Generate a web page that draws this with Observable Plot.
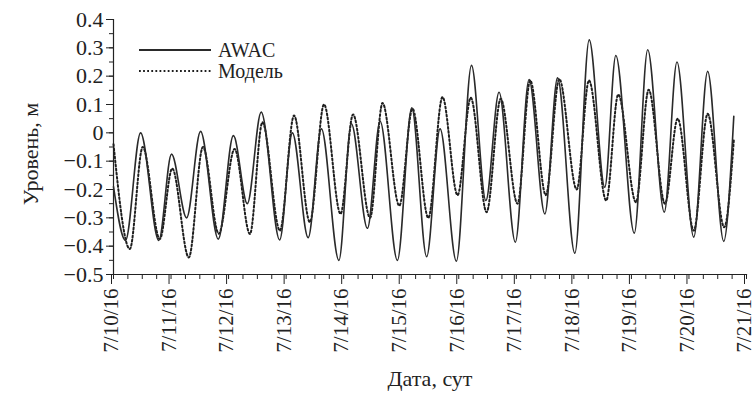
<!DOCTYPE html>
<html>
<head>
<meta charset="utf-8">
<script src="https://cdn.jsdelivr.net/npm/d3@7"></script>
<script src="https://cdn.jsdelivr.net/npm/@observablehq/plot@0.6"></script>
<style>
  html, body { margin: 0; padding: 0; background: #fff; }
  #wrap { position: relative; width: 756px; height: 402px; }
  #legend { position: absolute; left: 0; top: 0; }
</style>
</head>
<body>
<div id="wrap"></div>
<script>
// Hours since 7/10/16 00:00 of the turning points
const hoursAWAC = [0, 5.0, 11.3, 18.9, 24.2, 30.5, 36.3, 43.7, 50.0, 55.8, 61.6, 69.3, 74.6, 81.2, 86.7, 94.0, 99.2, 105.9, 111.2, 118.4, 124.4, 130.6, 136.2, 143.0, 149.3, 155.3, 160.8, 167.6, 173.3, 179.9, 185.2, 192.4, 198.4, 204.9, 209.5, 217.2, 222.8, 229.7, 235.0, 242.0, 247.8, 254.5, 258.7];
const levelAWAC = [-0.19, -0.38, 0.0, -0.38, -0.075, -0.30, 0.005, -0.375, -0.01, -0.25, 0.073, -0.378, 0.0, -0.37, 0.014, -0.45, 0.032, -0.337, 0.041, -0.45, 0.088, -0.437, 0.014, -0.453, 0.238, -0.239, 0.143, -0.386, 0.188, -0.286, 0.194, -0.425, 0.328, -0.192, 0.273, -0.354, 0.293, -0.28, 0.25, -0.368, 0.217, -0.383, 0.058];

const hoursModel = [0, 6.8, 12.2, 19.3, 24.5, 31.4, 37.3, 43.9, 50.5, 56.9, 62.1, 69.4, 75.3, 81.9, 87.8, 94.7, 99.9, 107.0, 112.2, 119.2, 124.7, 131.3, 137.2, 143.5, 149.0, 155.6, 161.5, 168.5, 173.8, 180.3, 185.9, 193.2, 198.3, 205.5, 210.5, 217.9, 223.2, 230.0, 235.3, 242.0, 247.8, 254.7, 258.7];
const levelModel = [-0.04, -0.41, -0.05, -0.375, -0.126, -0.44, -0.05, -0.356, -0.057, -0.357, 0.037, -0.345, 0.061, -0.315, 0.10, -0.286, 0.065, -0.30, 0.105, -0.257, 0.085, -0.30, 0.126, -0.22, 0.124, -0.28, 0.12, -0.25, 0.185, -0.22, 0.19, -0.20, 0.185, -0.239, 0.135, -0.245, 0.152, -0.25, 0.05, -0.345, 0.067, -0.333, -0.027];

const seriesNames = ["AWAC", "Модель"];
const yTicks = [0.4, 0.3, 0.2, 0.1, 0, -0.1, -0.2, -0.3, -0.4, -0.5];
const yTickLabels = ["0.4", "0.3", "0.2", "0.1", "0", "−0.1", "−0.2", "−0.3", "−0.4", "−0.5"];
const xTickDays = [10, 11, 12, 13, 14, 15, 16, 17, 18, 19, 20, 21];
const xTickLabels = ["7/10/16", "7/11/16", "7/12/16", "7/13/16", "7/14/16", "7/15/16", "7/16/16", "7/17/16", "7/18/16", "7/19/16", "7/20/16", "7/21/16"];
const xTitle = "Дата, сут";
const yTitle = "Уровень, м";

// pick an installed serif face (Times-like) by measuring text widths
function pickFont(candidates, fallback) {
  const c = document.createElement("canvas").getContext("2d");
  const probe = "Уровень 0.4 AWAC Дата mmmwwlli";
  const w = f => { c.font = "40px " + f; return c.measureText(probe).width; };
  const base = [w("monospace"), w("sans-serif")];
  for (const f of candidates) {
    const a = w(`'${f}', monospace`), b = w(`'${f}', sans-serif`);
    if (a !== base[0] || b !== base[1]) return `'${f}', ${fallback}`;
  }
  return fallback;
}
const FONT = pickFont(["Liberation Serif", "Tinos", "Times New Roman", "DejaVu Serif", "Noto Serif", "FreeSerif", "Nimbus Roman"], "serif");

const t0 = Date.UTC(2016, 6, 10);
const toDate = h => new Date(t0 + h * 3600e3);
const awac = hoursAWAC.map((h, i) => ({t: toDate(h), v: levelAWAC[i]}));
const model = hoursModel.map((h, i) => ({t: toDate(h), v: levelModel[i]}));

const xMajor = xTickDays.map(d => new Date(Date.UTC(2016, 6, d)));
const xMinor = d3.utcHour.every(6).range(xMajor[0], new Date(+xMajor[xMajor.length - 1] + 1));
const yMinor = d3.range(-10, 9).map(k => k * 0.05);

const ink = "#222";
const solidStroke = "#2a2a2a";
const dotStroke = "#1e1e1e";
const dotDash = "1.8,2.3";

const chart = Plot.plot({
  width: 756,
  height: 402,
  marginLeft: 113,
  marginRight: 10,
  marginTop: 19,
  marginBottom: 128,
  style: {fontFamily: FONT, color: ink, background: "#fff"},
  x: {type: "utc", domain: [xMajor[0], xMajor[xMajor.length - 1]]},
  y: {domain: [-0.5, 0.4]},
  marks: [
    Plot.axisY(yMinor, {tickSize: 4, tickFormat: () => "", label: null, stroke: ink}),
    Plot.axisY(yTicks, {tickSize: 7, tickPadding: 3, fontSize: 22, label: null, stroke: ink,
      tickFormat: d => yTickLabels[yTicks.indexOf(d)]}),
    Plot.axisX(xMinor, {tickSize: 5, tickFormat: () => "", label: null, stroke: ink}),
    Plot.axisX(xMajor, {tickSize: 10, tickPadding: 4, tickRotate: -90, fontSize: 21, dx: -2, label: null, stroke: ink,
      tickFormat: d => xTickLabels[xMajor.findIndex(m => +m === +d)]}),
    Plot.frame({anchor: "left", stroke: ink, strokeWidth: 1.2}),
    Plot.frame({anchor: "bottom", stroke: ink, strokeWidth: 1.2}),
    Plot.line(model, {x: "t", y: "v", curve: "monotone-x", stroke: dotStroke, strokeWidth: 2.0, strokeDasharray: dotDash}),
    Plot.line(awac, {x: "t", y: "v", curve: "monotone-x", stroke: solidStroke, strokeWidth: 1.6}),
    Plot.text([xTitle], {frameAnchor: "bottom", dy: 111, fontSize: 22, fill: ink}),
    Plot.text([yTitle], {frameAnchor: "left", textAnchor: "middle", lineAnchor: "middle", dx: -83, dy: 7, rotate: -90, fontSize: 22, fill: ink})
  ]
});

const wrap = document.getElementById("wrap");
wrap.appendChild(chart);

// Legend overlay (inside plot, top-left)
const ns = "http://www.w3.org/2000/svg";
const leg = document.createElementNS(ns, "svg");
leg.setAttribute("id", "legend");
leg.setAttribute("width", 320);
leg.setAttribute("height", 100);
const items = [
  {name: seriesNames[0], dash: null, stroke: solidStroke, w: 1.8, y: 50},
  {name: seriesNames[1], dash: dotDash, stroke: dotStroke, w: 2.1, y: 71}
];
for (const it of items) {
  const l = document.createElementNS(ns, "line");
  l.setAttribute("x1", 139); l.setAttribute("x2", 211);
  l.setAttribute("y1", it.y); l.setAttribute("y2", it.y);
  l.setAttribute("stroke", it.stroke);
  l.setAttribute("stroke-width", it.w);
  if (it.dash) l.setAttribute("stroke-dasharray", it.dash);
  leg.appendChild(l);
  const t = document.createElementNS(ns, "text");
  t.setAttribute("x", 218); t.setAttribute("y", it.y + 7);
  t.setAttribute("font-family", FONT);
  t.setAttribute("font-size", 20);
  t.setAttribute("fill", ink);
  t.textContent = it.name;
  leg.appendChild(t);
}
wrap.appendChild(leg);
</script>
</body>
</html>
